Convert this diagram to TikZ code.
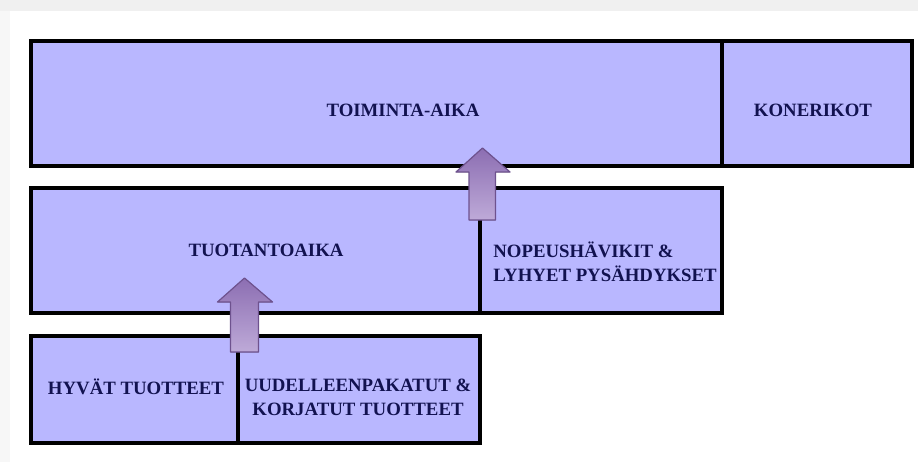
\documentclass[tikz,border=0pt]{standalone}
\usepackage{fontspec}
\setmainfont{Liberation Serif}
\usetikzlibrary{positioning}
\definecolor{cellfill}{RGB}{185,183,255}
\definecolor{txtblue}{RGB}{18,18,80}
\definecolor{arrtop}{RGB}{140,110,178}
\definecolor{arrbot}{RGB}{190,170,216}
\definecolor{arredge}{RGB}{110,82,142}
\tikzset{
  cell/.style={draw=black, line width=1.6pt, fill=cellfill, rectangle, inner sep=0pt, outer sep=0pt},
  txt/.style={text=txtblue, font=\fontsize{9.4}{11.8}\selectfont\bfseries, inner sep=0pt},
  blockarrow/.style={top color=arrtop, bottom color=arrbot, draw=arredge, line width=0.6pt, line join=round}
}
\begin{document}
\begin{tikzpicture}[x=0.5pt,y=-0.5pt]
\useasboundingbox (0,0) rectangle (918,462);
%background
\fill[white] (0,0) rectangle (918,462);
\fill[gray!12] (0,0) rectangle (918,11);
\fill[gray!6] (0,11) rectangle (10,462);
%top row
\node[cell, minimum width=345.5pt, minimum height=62.5pt, anchor=north west] (toim) at (31,41) {};
\node[cell, minimum width=95pt, minimum height=62.5pt, right=0pt of toim] (kone) {};
%middle row
\node[cell, minimum width=224.5pt, minimum height=62.5pt, anchor=north west] (tuot) at (31,188) {};
\node[cell, minimum width=121pt, minimum height=62.5pt, right=0pt of tuot] (nope) {};
%bottom row
\node[cell, minimum width=103.5pt, minimum height=53.5pt, anchor=north west] (hyva) at (31,336) {};
\node[cell, minimum width=121pt, minimum height=53.5pt, right=0pt of hyva] (uude) {};
%labels
\node[txt] (ltoim) at (403,110) {TOIMINTA-AIKA};
\node[txt] (lkone) at (813,110) {KONERIKOT};
\node[txt] (ltuot) at (266,250) {TUOTANTOAIKA};
\node[txt, anchor=west, align=left] (lnope) at (493,262) {NOPEUSHÄVIKIT \&\\LYHYET PYSÄHDYKSET};
\node[txt] (lhyva) at (136,387) {HYVÄT TUOTTEET};
\node[txt, align=center] (luude) at (358,397.5) {UUDELLEENPAKATUT \&\\KORJATUT TUOTTEET};
%arrows
\coordinate (up1) at ([xshift=1.25pt,yshift=-16pt]nope.north west);
\coordinate (up2) at ([xshift=3.25pt,yshift=-8pt]uude.north west);
\filldraw[blockarrow] (up1) ++(-13.5,0) -- ++(0,-48) -- ++(-13,0) -- ++(26.5,-24) -- ++(27.5,24) -- ++(-14.5,0) -- ++(0,48) -- cycle;
\filldraw[blockarrow] (up2) ++(-14,0) -- ++(0,-50) -- ++(-13,0) -- ++(27,-24) -- ++(28,24) -- ++(-14,0) -- ++(0,50) -- cycle;
\end{tikzpicture}
\end{document}
